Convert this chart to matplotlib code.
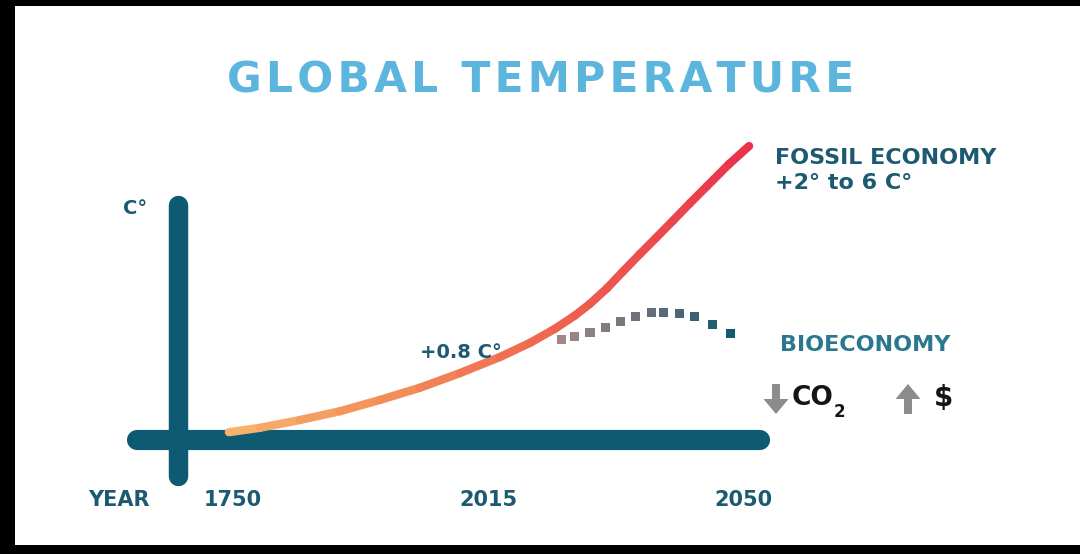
import matplotlib.pyplot as plt
from matplotlib.collections import LineCollection
from matplotlib.colors import LinearSegmentedColormap
from matplotlib.patches import Rectangle, FancyArrow
from matplotlib.transforms import IdentityTransform

# x axis is schematic: 1750 -> 0, 2015 -> 1, 2050 -> 2
years = ["1750", "2015", "2050"]
year_pos = [0, 1, 2]

# fossil economy curve (time index, schematic temperature rise)
fossil_t = [-0.016, 0.106, 0.263, 0.420, 0.576, 0.733, 0.890, 1.047, 1.165, 1.263, 1.341,
            1.400, 1.467, 1.529, 1.596, 1.659, 1.725, 1.792, 1.859, 1.945, 2.024]
fossil_temp = [0.16, 0.25, 0.41, 0.59, 0.82, 1.07, 1.37, 1.70, 1.99, 2.28, 2.55,
               2.79, 3.11, 3.45, 3.81, 4.14, 4.49, 4.85, 5.20, 5.65, 6.02]

# bioeconomy dotted path
bio_t = [1.29, 1.34, 1.40, 1.46, 1.52, 1.58, 1.64, 1.69, 1.75, 1.81, 1.88, 1.95]
bio_temp = [2.05, 2.11, 2.21, 2.31, 2.42, 2.52, 2.62, 2.62, 2.60, 2.52, 2.36, 2.19]

W, H = 1080, 554
X0, XS = 233, 255.0     # pixel of 1750, pixels per step
Y0, YS = 440, 48.83     # pixel of baseline, pixels per unit

TEAL = "#0f5a73"
LABEL = "#1b5a70"
FONT = ["DejaVu Sans"]

fig = plt.figure(figsize=(W / 100, H / 100), dpi=100)
fig.patch.set_facecolor("black")
fig.patches.append(Rectangle((15 / W, 1 - 545 / H), 1.2, (545 - 6) / H,
                             transform=fig.transFigure, facecolor="white",
                             edgecolor="none", zorder=-5))

ax = fig.add_axes([0, 0, 1, 1])
ax.set_zorder(2)
ax.set_facecolor("none")
ax.set_xlim(-X0 / XS, (W - X0) / XS)
ax.set_ylim((Y0 - H) / YS, Y0 / YS)
ax.axis("off")


def put(px, py, s, **kw):
    fig.text(px / W, 1 - py / H, s, family=FONT, fontweight="bold", **kw)


# axes bars
ax.plot([(178 - X0) / XS] * 2, [(Y0 - 205) / YS, (Y0 - 476) / YS],
        color=TEAL, lw=14, solid_capstyle="round", zorder=2)
ax.plot([(137 - X0) / XS, (760 - X0) / XS], [0, 0],
        color=TEAL, lw=14.5, solid_capstyle="round", zorder=2)

# fossil curve with gradient
cmap = LinearSegmentedColormap.from_list("fossil", ["#f7b56c", "#f28a58", "#ee6050", "#e8334c"])
pts = list(zip(fossil_t, fossil_temp))
segs = [[pts[i], pts[i + 1]] for i in range(len(pts) - 1)]
vals = [(fossil_t[i] + fossil_t[i + 1]) / 2 for i in range(len(pts) - 1)]
lc = LineCollection(segs, cmap=cmap, linewidths=6, capstyle="round", joinstyle="round", zorder=3)
lc.set_array(vals)
lc.set_clim(0, 2.02)
ax.add_collection(lc)

# bioeconomy squares
bcmap = LinearSegmentedColormap.from_list("bio", ["#a08888", "#6a6e78", "#135a70"])
ax.scatter(bio_t, bio_temp, c=bio_t, cmap=bcmap, marker="s", s=42, lw=0, zorder=4,
           vmin=bio_t[0], vmax=bio_t[-1])

# year labels
for p, y in zip(year_pos, years):
    ax.text(p, (Y0 - 500) / YS, y, ha="center", va="center", fontsize=15,
            fontweight="bold", color=LABEL, family=FONT)
put(119, 500, "YEAR", ha="center", va="center", fontsize=15, color=LABEL)
put(135, 208, "C°", ha="center", va="center", fontsize=14, color=LABEL)

title = "\u200a".join("GLOBAL TEMPERATURE")
put(541, 80, title, ha="center", va="center", fontsize=30.5, color="#5bb5dc")

put(461, 352, "+0.8 C°", ha="center", va="center", fontsize=14, color=LABEL)
put(775, 158, "FOSSIL ECONOMY", ha="left", va="center", fontsize=16, color=LABEL)
put(775, 183, "+2° to 6 C°", ha="left", va="center", fontsize=16, color=LABEL)
put(780, 345, "BIOECONOMY", ha="left", va="center", fontsize=16, color="#2a7890")

# arrows next to CO2 and $ (drawn in pixel space)
ARROW = "#8c8c8c"
for x, y_from, y_to in [(776, 384, 414), (908, 414, 384)]:
    fig.patches.append(FancyArrow(x, H - y_from, 0, -(y_to - y_from), width=8,
                                  head_width=25, head_length=15, length_includes_head=True,
                                  color=ARROW, lw=0, transform=IdentityTransform(),
                                  figure=fig, zorder=5))
put(792, 398, "CO", ha="left", va="center", fontsize=19, color="#151515")
put(834, 412, "2", ha="left", va="center", fontsize=12, color="#151515")
put(934, 398, "$", ha="left", va="center", fontsize=20, color="#151515")

fig.savefig("out.png", dpi=100, facecolor=fig.get_facecolor())
